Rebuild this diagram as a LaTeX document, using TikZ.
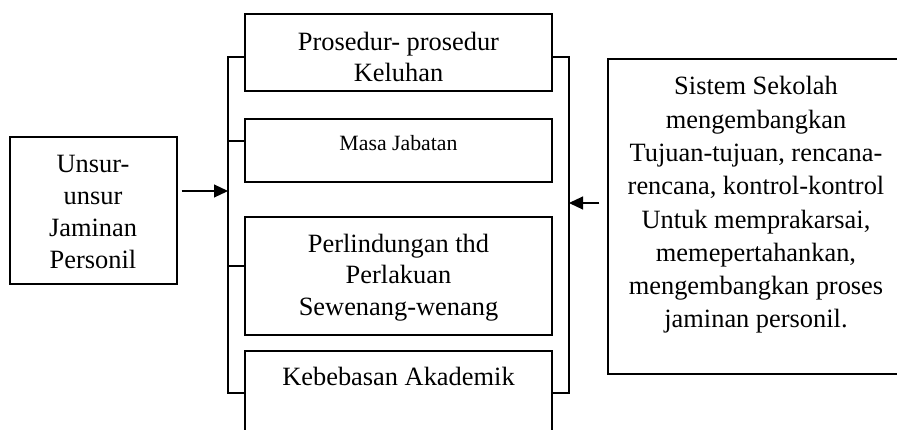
\documentclass[tikz,border=0pt]{standalone}
\usepackage{fontspec}
\setmainfont{Liberation Serif}
\usetikzlibrary{arrows.meta}
\begin{document}
\begin{tikzpicture}[x=1pt,y=-1pt,
  box/.style={draw, line width=1.1pt, inner sep=0pt},
  txt/.style={align=center, inner sep=0pt, font=\fontsize{26.4}{31.7}\selectfont},
  smalltxt/.style={align=center, inner sep=0pt, font=\fontsize{21.8}{26}\selectfont},
  bus/.style={line width=1.1pt},
  arr/.style={line width=1.1pt, -{Triangle[length=14pt,width=13pt]}}]
\useasboundingbox (0,0) rectangle (897,429);
\clip (0,0) rectangle (897,429);
% boxes
\node[box, minimum width=167pt, minimum height=147pt] (unsur) at (93.5,210.5) {};
\node[box, minimum width=307pt, minimum height=77pt] (pros) at (398.5,52.5) {};
\node[box, minimum width=307pt, minimum height=63pt] (masa) at (398.5,150.5) {};
\node[box, minimum width=307pt, minimum height=118pt] (perl) at (398.5,276) {};
\node[box, minimum width=307pt, minimum height=110pt] (keb) at (398.5,406) {};
\node[box, minimum width=296pt, minimum height=315pt] (sis) at (756,216.5) {};
% texts
\node[txt] (tunsur) at (93,212) {Unsur-\\unsur\\Jaminan\\Personil};
\node[txt] (tpros) at (398.5,57) {Prosedur- prosedur\\Keluhan};
\node[smalltxt] (tmasa) at (398.5,143) {Masa Jabatan};
\node[txt] (tperl) at (398.5,277.5) {Perlindungan thd\\Perlakuan\\Sewenang-wenang};
\node[txt] (tkeb) at (398.5,376) {Kebebasan Akademik};
\node[txt, font=\fontsize{26.4}{33.3}\selectfont] (tsis) at (756,205) {Sistem Sekolah\\mengembangkan\\Tujuan-tujuan, rencana-\\rencana, kontrol-kontrol\\Untuk memprakarsai,\\memepertahankan,\\mengembangkan proses\\jaminan personil.};
% left bus
\coordinate (l1) at (228,57);
\coordinate (l2) at (228,141);
\coordinate (l3) at (228,266);
\coordinate (l4) at (228,393);
\draw[bus] (pros.west |- l1) -- (l1) -- (l4) -- (keb.west |- l4);
\draw[bus] (l2) -- (masa.west |- l2);
\draw[bus] (l3) -- (perl.west |- l3);
% right bus
\coordinate (r1) at (569,57);
\coordinate (r4) at (569,393);
\draw[bus] (pros.east |- r1) -- (r1) -- (r4) -- (keb.east |- r4);
% arrows
\coordinate (la) at (228,191);
\coordinate (ra) at (569,203);
\draw[arr, shorten <=4pt] (unsur.east |- la) -- (la);
\draw[arr, shorten <=8pt] (sis.west |- ra) -- (ra);
\end{tikzpicture}
\end{document}
